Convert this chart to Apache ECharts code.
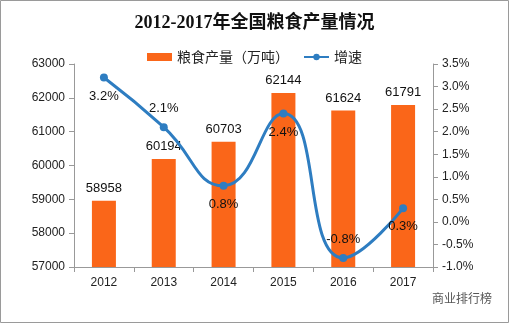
<!DOCTYPE html>
<html><head><meta charset="utf-8">
<script src="https://cdn.jsdelivr.net/npm/echarts@6/dist/echarts.min.js"></script>
<style>html,body{margin:0;padding:0;background:#fff}#c{width:509px;height:323px}</style>
</head><body><div id="c"></div>
<script>
const title = '2012-2017年全国粮食产量情况';
const categories = ['2012','2013','2014','2015','2016','2017'];
const production = [58958, 60194, 60703, 62144, 61624, 61791];
const growth = [3.2, 2.1, 0.8, 2.4, -0.8, 0.3];
const seriesNames = ['粮食产量（万吨）', '增速'];
const watermarkText = '商业排行榜';

const labelPlacement = ['bottom','top','bottom','bottom','top','bottom'];
const chart = echarts.init(document.getElementById('c'));
const axisFont = {color:'#222', fontSize:12, fontFamily:'Liberation Sans, Noto Sans CJK SC'};
chart.setOption({
  animation:false,
  backgroundColor:'#fff',
  title:{text:title, left:'center', top:9, textStyle:{fontSize:18, fontWeight:'bold', color:'#111', fontFamily:'Liberation Serif, Noto Sans CJK SC'}},
  legend:{top:45, left:'center', itemGap:14, itemWidth:25, itemHeight:8,
    textStyle:{fontSize:14, color:'#222', fontFamily:'Noto Sans CJK SC'},
    data:[{name:seriesNames[0], icon:'rect'}, {name:seriesNames[1]}]},
  grid:{left:74, right:76, top:64, bottom:56},
  xAxis:{type:'category', data:categories,
    axisLine:{onZero:false, lineStyle:{color:'#999'}}, axisTick:{show:true, length:5, lineStyle:{color:'#999'}},
    axisLabel:Object.assign({margin:10}, axisFont)},
  yAxis:[
    {type:'value', min:57000, max:63000, interval:1000, splitLine:{show:false},
      axisLine:{show:true, lineStyle:{color:'#999'}}, axisTick:{show:true, length:5, lineStyle:{color:'#999'}},
      axisLabel:Object.assign({margin:9, formatter:v=>String(v)}, axisFont)},
    {type:'value', min:-1, max:3.5, interval:0.5, splitLine:{show:false},
      axisLine:{show:true, lineStyle:{color:'#999'}}, axisTick:{show:true, length:5, lineStyle:{color:'#999'}},
      axisLabel:Object.assign({margin:9, formatter:v=>v.toFixed(1)+'%'}, axisFont)}
  ],
  series:[
    {name:seriesNames[0], type:'bar', data:production, barWidth:24,
      itemStyle:{color:'#fa6619'},
      label:{show:true, position:'top', distance:6, color:'#111', fontSize:13, fontFamily:'Liberation Sans'}},
    {name:seriesNames[1], type:'line', yAxisIndex:1, smooth:0.5,
      data:growth.map((v,i)=>({value:v, label:{position:labelPlacement[i]}})),
      symbol:'circle', symbolSize:8,
      lineStyle:{color:'#2e7dc1', width:3}, itemStyle:{color:'#2e7dc1'},
      label:{show:true, distance:8, color:'#111', fontSize:13, fontFamily:'Liberation Sans', formatter:p=>p.value.toFixed(1)+'%'}}
  ],
  graphic:[
    {type:'rect', shape:{x:0.5, y:0.5, width:508, height:322}, style:{fill:'none', stroke:'#9a9a9a', lineWidth:1}},
    {type:'text', left:432, top:292, style:{text:watermarkText, fontSize:12, fill:'#555', fontFamily:'Noto Sans CJK SC'}}
  ]
});
</script></body></html>
